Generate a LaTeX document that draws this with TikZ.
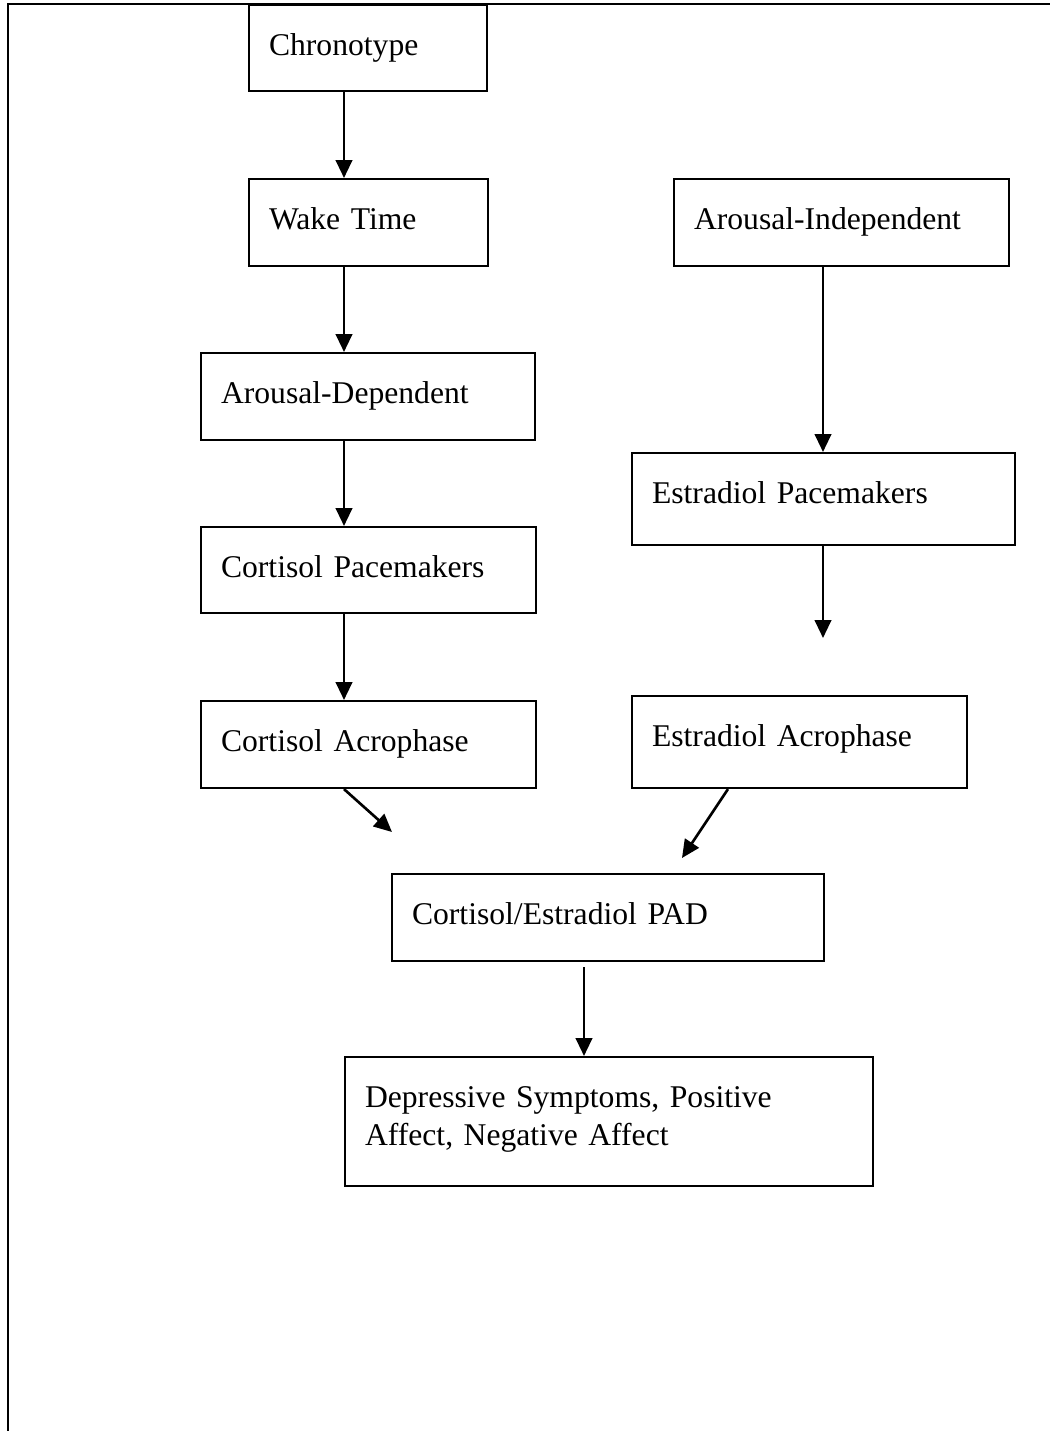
\documentclass[tikz,border=0pt]{standalone}
\usepackage{fontspec}
\setmainfont{Liberation Serif}
\usetikzlibrary{arrows.meta}
\begin{document}
\begin{tikzpicture}[x=0.02cm,y=-0.02cm,every node/.style={font=\fontsize{18}{21.6}\selectfont},
  box/.style={draw,line width=1.2pt,anchor=north west,inner xsep=0.4cm,inner ysep=0pt,align=left,text height=1cm},
  arr/.style={line width=1.5pt,-{Triangle[length=0.36cm,width=0.33cm]}}]
\useasboundingbox (0,0) rectangle (1050,1431);
\draw[line width=1.5pt] (1050,4) -- (8,4) -- (8,1431);
% left column
\node[box,text width=3.96cm,text depth=0.72cm] (chrono) at (248,4) {Chronotype};
\node[box,text width=3.98cm,text depth=0.74cm] (wake) at (248,178) {Wake Time};
\node[box,text width=5.88cm,text depth=0.74cm] (ardep) at (200,352) {Arousal-Dependent};
\node[box,text width=5.90cm,text depth=0.72cm] (cortpace) at (200,526) {Cortisol Pacemakers};
\node[box,text width=5.90cm,text depth=0.74cm] (cortacro) at (200,700) {Cortisol Acrophase};
% right column
\node[box,text width=5.90cm,text depth=0.74cm] (arindep) at (673,178) {Arousal-Independent};
\node[box,text width=6.86cm,text depth=0.84cm] (estpace) at (631,452) {Estradiol Pacemakers};
\node[box,text width=5.90cm,text depth=0.84cm] (estacro) at (631,695) {Estradiol Acrophase};
% bottom
\node[box,text width=7.84cm,text depth=0.74cm] (pad) at (391,873) {Cortisol/Estradiol PAD};
\node[box,text width=9.76cm,text depth=1.58cm] (mood) at (344,1056) {Depressive Symptoms, Positive\\Affect, Negative Affect};
\coordinate (lx) at (344,0);
\coordinate (rx) at (823,0);
\coordinate (mx) at (584,0);
\coordinate (eax) at (728,0);
\coordinate (caend) at (392,832);
\coordinate (epend) at (823,638);
\coordinate (eaend) at (682,858);
\draw[arr] (chrono.south -| lx) -- (wake.north -| lx);
\draw[arr] (wake.south -| lx) -- (ardep.north -| lx);
\draw[arr] (ardep.south -| lx) -- (cortpace.north -| lx);
\draw[arr] (cortpace.south -| lx) -- (cortacro.north -| lx);
\draw[arr] (arindep.south -| rx) -- (estpace.north -| rx);
\draw[arr] (estpace.south -| rx) -- (epend);
\draw[arr] (cortacro.south -| lx) -- (caend);
\draw[arr] (estacro.south -| eax) -- (eaend);
\draw[arr,shorten <=3pt] (pad.south -| mx) -- (mood.north -| mx);
\end{tikzpicture}
\end{document}
